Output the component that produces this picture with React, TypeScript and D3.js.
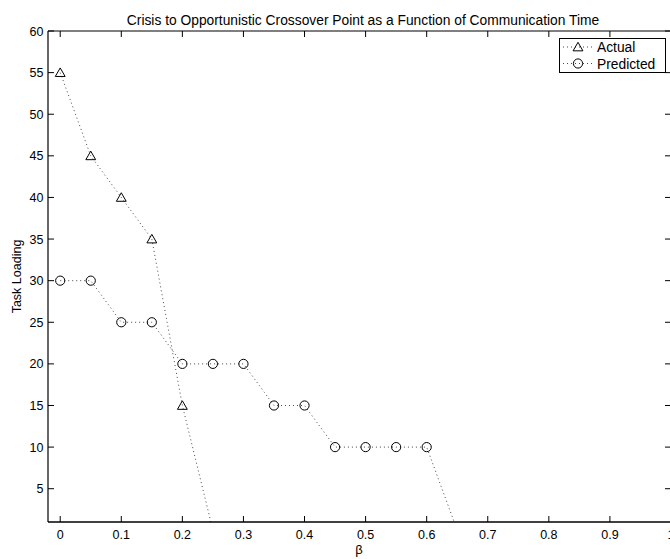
import React from "react";
import * as d3 from "d3";

// β values and task loading for the two series
const betaActual = [0, 0.05, 0.1, 0.15, 0.2, 0.25];
const loadActual = [55, 45, 40, 35, 15, 0];
const betaPredicted = [0, 0.05, 0.1, 0.15, 0.2, 0.25, 0.3, 0.35, 0.4, 0.45, 0.5, 0.55, 0.6, 0.65];
const loadPredicted = [30, 30, 25, 25, 20, 20, 20, 15, 15, 10, 10, 10, 10, 0];

const xTicks = [0, 0.1, 0.2, 0.3, 0.4, 0.5, 0.6, 0.7, 0.8, 0.9, 1];
const yTicks = [5, 10, 15, 20, 25, 30, 35, 40, 45, 50, 55, 60];
const seriesNames = ["Actual", "Predicted"];

const W = 670;
const H = 559;
const left = 48;
const right = 671;
const top = 31;
const bottom = 522;
const FONT = "'Liberation Sans', Arial, Helvetica, sans-serif";

export default function App() {
  const x = d3.scaleLinear().domain([-0.02, 1.0]).range([left, right]);
  const y = d3.scaleLinear().domain([1, 60]).range([bottom, top]);

  const actual = betaActual.map((b, i) => [b, loadActual[i]] as [number, number]);
  const predicted = betaPredicted.map((b, i) => [b, loadPredicted[i]] as [number, number]);

  const line = d3
    .line<[number, number]>()
    .x((d) => x(d[0]))
    .y((d) => y(d[1]));

  const tri = d3.symbol().type(d3.symbolTriangle).size(42);
  const triPath = tri() as string;
  const r = 4.6;
  const tickLen = 6;

  const visible = (d: [number, number]) => d[1] >= 1 && d[1] <= 60;

  return (
    <svg
      width={W}
      height={H}
      style={{ position: "absolute", left: 0, top: 0, background: "#fff" }}
      fontFamily={FONT}
    >
      <defs>
        <clipPath id="plot">
          <rect x={left} y={top} width={right - left} height={bottom - top} />
        </clipPath>
      </defs>
      <rect x={0} y={0} width={W} height={H} fill="#fff" />

      {/* title */}
      <text x={363} y={25} textAnchor="middle" fontSize={13.8} fill="#000">
        Crisis to Opportunistic Crossover Point as a Function of Communication Time
      </text>

      {/* series lines */}
      <g clipPath="url(#plot)" fill="none">
        <path d={line(actual) || ""} stroke="#333" strokeWidth={0.9} strokeDasharray="1 3" />
        <path d={line(predicted) || ""} stroke="#333" strokeWidth={0.9} strokeDasharray="1 3" />
      </g>

      {/* markers */}
      <g fill="none" stroke="#000" strokeWidth={1}>
        {actual.filter(visible).map((d, i) => (
          <path key={"a" + i} d={triPath} transform={`translate(${x(d[0])},${y(d[1]) + 1})`} />
        ))}
        {predicted.filter(visible).map((d, i) => (
          <circle key={"p" + i} cx={x(d[0])} cy={y(d[1])} r={r} />
        ))}
      </g>

      {/* axes box and ticks */}
      <g stroke="#000" fill="none">
        <line x1={left} x2={left} y1={top} y2={bottom} strokeWidth={1.2} />
        <line x1={left} x2={right} y1={bottom} y2={bottom} strokeWidth={1.6} />
        <line x1={left} x2={right} y1={top} y2={top} strokeWidth={1.2} />
        <line x1={right} x2={right} y1={top} y2={bottom} strokeWidth={1.2} />
        {xTicks.map((t) => (
          <g key={"xt" + t}>
            <line x1={x(t)} x2={x(t)} y1={bottom} y2={bottom - tickLen} />
            <line x1={x(t)} x2={x(t)} y1={top} y2={top + tickLen} />
          </g>
        ))}
        {yTicks.map((t) => (
          <g key={"yt" + t}>
            <line x1={left} x2={left + tickLen} y1={y(t)} y2={y(t)} />
            <line x1={right} x2={right - tickLen} y1={y(t)} y2={y(t)} />
          </g>
        ))}
      </g>

      {/* tick labels */}
      <g fontSize={12.5} fill="#000">
        {xTicks.map((t) => (
          <text key={"xl" + t} x={x(t)} y={bottom + 17} textAnchor="middle">
            {String(t)}
          </text>
        ))}
        {yTicks.map((t) => (
          <text key={"yl" + t} x={left - 4.5} y={y(t) + 4.5} textAnchor="end">
            {String(t)}
          </text>
        ))}
      </g>

      {/* axis labels */}
      <text x={359} y={554} textAnchor="middle" fontSize={13} fill="#000">
        β
      </text>
      <text
        transform={`translate(21,${(top + bottom) / 2}) rotate(-90)`}
        textAnchor="middle"
        fontSize={12.5}
        fill="#000"
      >
        Task Loading
      </text>

      {/* legend */}
      <g>
        <rect x={559.5} y={38.5} width={106} height={34} fill="#fff" stroke="#000" strokeWidth={1} />
        {seriesNames.map((name, i) => {
          const cy = 47 + i * 16.5;
          return (
            <g key={name}>
              <line x1={563} x2={592} y1={cy} y2={cy} stroke="#333" strokeWidth={0.9} strokeDasharray="1 3" />
              {i === 0 ? (
                <path d={triPath} transform={`translate(578,${cy + 1})`} fill="none" stroke="#000" />
              ) : (
                <circle cx={578} cy={cy} r={r} fill="none" stroke="#000" />
              )}
              <text x={597} y={cy + 5} fontSize={13.8} fill="#000">
                {name}
              </text>
            </g>
          );
        })}
      </g>
    </svg>
  );
}
